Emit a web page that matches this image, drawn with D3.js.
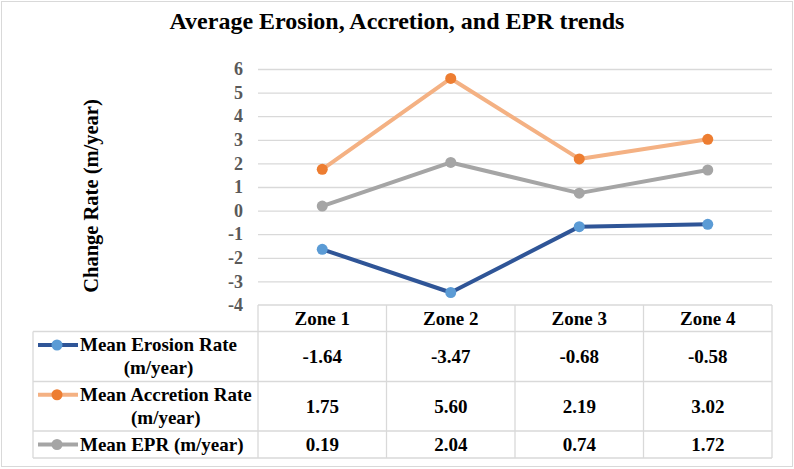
<!DOCTYPE html>
<html>
<head>
<meta charset="utf-8">
<script src="https://cdn.jsdelivr.net/npm/d3@7/dist/d3.min.js"></script>
<style>
  body { margin: 0; background: #fff; }
  svg { display: block; }
  text { font-family: "Liberation Serif", "Times New Roman", serif; }
</style>
</head>
<body>
<div id="chart"></div>
<script>
const zones = ["Zone 1", "Zone 2", "Zone 3", "Zone 4"];
const erosion = [-1.64, -3.47, -0.68, -0.58];
const accretion = [1.75, 5.60, 2.19, 3.02];
const epr = [0.19, 2.04, 0.74, 1.72];
const seriesNames = [["Mean Erosion Rate", "(m/year)"], ["Mean Accretion Rate", "(m/year)"], ["Mean EPR (m/year)"]];
const yTicks = [-4, -3, -2, -1, 0, 1, 2, 3, 4, 5, 6];

const W = 794, H = 469;
const plot = { left: 258, right: 772, top: 69, bottom: 305 };
const tableLeft = 33;
const rowEdges = [305, 331.5, 381.5, 431, 458];
const serif = "'Liberation Serif', 'Times New Roman', serif";

const svg = d3.select("#chart").append("svg")
    .attr("width", W)
    .attr("height", H);

// outer frame
svg.append("rect")
    .attr("x", 1.5).attr("y", 1.5)
    .attr("width", W - 3).attr("height", H - 4)
    .style("fill", "#fff")
    .style("stroke", "#d9d9d9")
    .style("stroke-width", 1);

svg.append("text")
    .attr("x", 397).attr("y", 29)
    .attr("text-anchor", "middle")
    .style("font-family", serif)
    .style("font-size", "24px")
    .style("font-weight", "bold")
    .text("Average Erosion, Accretion, and EPR trends");

const x = d3.scaleBand().domain(zones).range([plot.left, plot.right]);
const y = d3.scaleLinear().domain([-4, 6]).range([plot.bottom, plot.top]);

// gridlines
svg.append("g")
    .attr("transform", `translate(${plot.left},0)`)
    .call(d3.axisLeft(y).tickValues(yTicks.slice(1)).tickSize(-(plot.right - plot.left)).tickFormat(""))
    .call(g => g.select(".domain").remove())
    .call(g => g.selectAll("line").style("stroke", "#d9d9d9").style("stroke-width", 1.3));

// y tick labels (plain hyphen like the original)
svg.append("g")
    .attr("transform", `translate(${plot.left},0)`)
    .attr("font-family", null)
    .call(d3.axisLeft(y).tickValues(yTicks).tickSize(0).tickPadding(15).tickFormat(d => String(d)))
    .call(g => g.select(".domain").remove())
    .call(g => g.attr("font-family", serif).attr("font-size", 18))
    .call(g => g.selectAll("text")
        .style("font-family", serif)
        .style("font-size", "18px")
        .style("font-weight", "bold")
        .style("fill", "#595959"));

svg.append("text")
    .attr("transform", `translate(98,196) rotate(-90)`)
    .attr("text-anchor", "middle")
    .style("font-family", serif)
    .style("font-size", "20.5px")
    .style("font-weight", "bold")
    .text("Change Rate (m/year)");

const series = [
    { values: erosion, line: "#2f5597", dot: "#5b9bd5" },
    { values: accretion, line: "#f4b183", dot: "#ed7d31" },
    { values: epr, line: "#a5a5a5", dot: "#a5a5a5" }
];

const cx = z => x(z) + x.bandwidth() / 2;
const line = d3.line().x((d, i) => cx(zones[i])).y(d => y(d));

series.forEach(s => {
    svg.append("path")
        .datum(s.values)
        .attr("d", line)
        .style("fill", "none")
        .style("stroke", s.line)
        .style("stroke-width", 4)
        .style("stroke-linejoin", "round");
    svg.selectAll(null)
        .data(s.values)
        .enter().append("circle")
        .attr("cx", (d, i) => cx(zones[i]))
        .attr("cy", d => y(d))
        .attr("r", 5.5)
        .style("fill", s.dot);
});

// data table
const grid = svg.append("g").style("stroke", "#d9d9d9").style("stroke-width", 1.3);
grid.append("line").attr("x1", plot.left).attr("x2", plot.right).attr("y1", rowEdges[0]).attr("y2", rowEdges[0]);
rowEdges.slice(1).forEach(r => {
    grid.append("line").attr("x1", tableLeft).attr("x2", plot.right).attr("y1", r).attr("y2", r);
});
grid.append("line").attr("x1", tableLeft).attr("x2", tableLeft).attr("y1", rowEdges[1]).attr("y2", rowEdges[4]);
zones.forEach(z => {
    grid.append("line").attr("x1", x(z)).attr("x2", x(z)).attr("y1", rowEdges[0]).attr("y2", rowEdges[4]);
});
grid.append("line").attr("x1", plot.right).attr("x2", plot.right).attr("y1", rowEdges[0]).attr("y2", rowEdges[4]);

const cellFont = g => g.style("font-family", serif).style("font-size", "19px").style("font-weight", "bold").style("fill", "#000");

svg.selectAll(null)
    .data(zones)
    .enter().append("text")
    .attr("x", d => cx(d))
    .attr("y", (rowEdges[0] + rowEdges[1]) / 2)
    .attr("dy", "0.35em")
    .attr("text-anchor", "middle")
    .call(cellFont)
    .text(d => d);

series.forEach((s, k) => {
    const mid = (rowEdges[k + 1] + rowEdges[k + 2]) / 2;
    svg.selectAll(null)
        .data(s.values)
        .enter().append("text")
        .attr("x", (d, i) => cx(zones[i]))
        .attr("y", mid)
        .attr("dy", "0.35em")
        .attr("text-anchor", "middle")
        .call(cellFont)
        .text(d => d.toFixed(2));

    // legend key
    const ky = k === 2 ? mid : mid - 11.5;
    svg.append("line")
        .attr("x1", 38).attr("x2", 78)
        .attr("y1", ky).attr("y2", ky)
        .style("stroke", s.line).style("stroke-width", 4);
    svg.append("circle")
        .attr("cx", 57).attr("cy", ky)
        .attr("r", 5.5).style("fill", s.dot);

    const names = seriesNames[k];
    const first = svg.append("text")
        .attr("x", 80)
        .attr("y", names.length === 2 ? mid - 12 : mid)
        .attr("dy", "0.35em")
        .call(cellFont)
        .text(names[0]);
    if (names.length === 2) {
        const w = first.node().getComputedTextLength();
        svg.append("text")
            .attr("x", 80 + w / 2)
            .attr("y", mid + 11)
            .attr("dy", "0.35em")
            .attr("text-anchor", "middle")
            .call(cellFont)
            .text(names[1]);
    }
});
</script>
</body>
</html>
